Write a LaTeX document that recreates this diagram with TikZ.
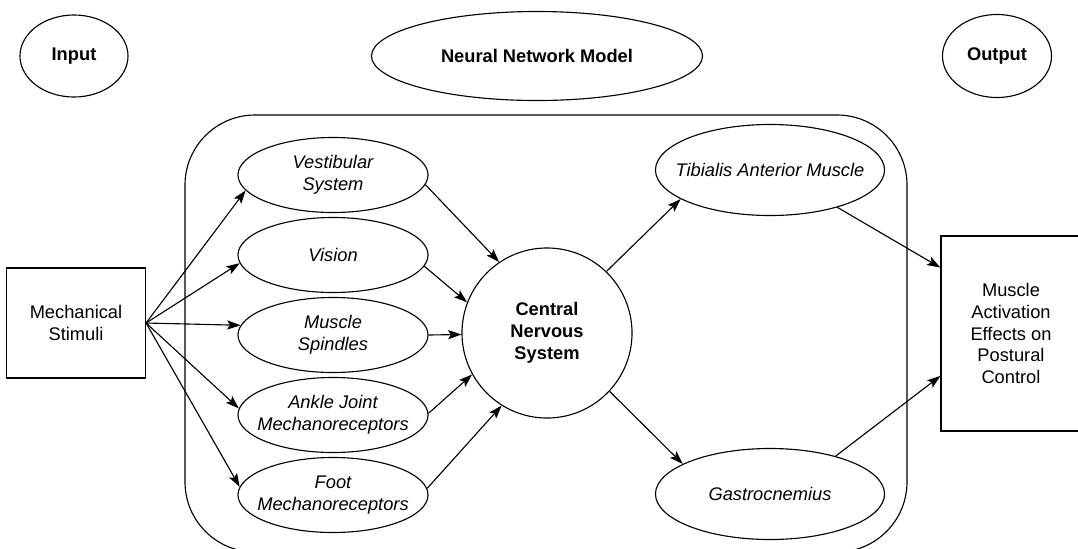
\documentclass[tikz,border=0pt]{standalone}
\usepackage{fontspec}
\setmainfont{Liberation Sans}
\usetikzlibrary{arrows.meta,shapes.geometric}

\begin{document}
\begin{tikzpicture}[x=0.025cm, y=-0.025cm, line width=0.8pt, >={Stealth[length=9.5pt,width=6.5pt,inset=2pt]},
	every node/.style={font=\fontsize{13}{15.6}\selectfont, align=center},
	tag/.style={draw, ellipse, inner sep=0pt, font=\fontsize{13}{15.6}\selectfont\bfseries},
	ell/.style={draw, ellipse, inner xsep=-12pt, inner ysep=2pt, minimum width=4.75cm, minimum height=1.875cm, font=\fontsize{13}{15.6}\selectfont\itshape},
	musc/.style={ell, minimum width=5.725cm, minimum height=2.275cm},
	blk/.style={draw, rectangle, inner sep=0pt}]
	\useasboundingbox (0,0) rectangle (1078,548);
	\clip (0,0) rectangle (1078,548);
	% headings
	\node[tag, minimum width=2.7cm, minimum height=2.05cm] (input) at (74,56) {Input};
	\node[tag, minimum width=8.275cm, minimum height=2.225cm] (model) at (537,56) {Neural Network Model};
	\node[tag, minimum width=2.725cm, minimum height=2.075cm] (output) at (997,56) {Output};
	% network frame
	\draw[rounded corners=1.75cm] (185,115) rectangle (907,552);
	\node[blk, minimum width=3.475cm, minimum height=2.75cm] (stim) at (76,323) {Mechanical\\Stimuli};
	\node[ell] (vest) at (333,175) {Vestibular\\System};
	\node[ell] (vis) at (333,255) {Vision};
	\node[ell] (spin) at (333,335) {Muscle\\Spindles};
	\node[ell] (ankle) at (333,415) {Ankle Joint\\Mechanoreceptors};
	\node[ell] (foot) at (333,495) {Foot\\Mechanoreceptors};
	\node[draw, circle, minimum size=4.25cm, inner sep=0pt, font=\fontsize{13}{15.6}\selectfont\bfseries] (cns) at (547,333) {Central\\Nervous\\System};
	\node[musc] (tib) at (770,170) {Tibialis Anterior Muscle};
	\node[musc] (gas) at (770,494) {Gastrocnemius};
	\node[blk, minimum width=3.5cm, minimum height=4.875cm] (effect) at (1011,333.5) {Muscle\\Activation\\Effects on\\Postural\\Control};
	% connections
	\foreach \s/\a in {vest/190, vis/185, spin/174, ankle/176, foot/175} {\draw[->] (stim.east) -- (\s.\a);}
	\foreach \s/\a/\b in {vest/354/124, vis/353/159, spin/0/181, ankle/1/209, foot/4/238} {\draw[->] (\s.\a) -- (cns.\b);}
	\draw[->] (cns.46) -- (tib.198);
	\draw[->] (cns.317) -- (gas.161);
	\draw[->] (tib.331) -- (effect.137);
	\draw[->] (gas.30) -- (effect.211);
\end{tikzpicture}
\end{document}
